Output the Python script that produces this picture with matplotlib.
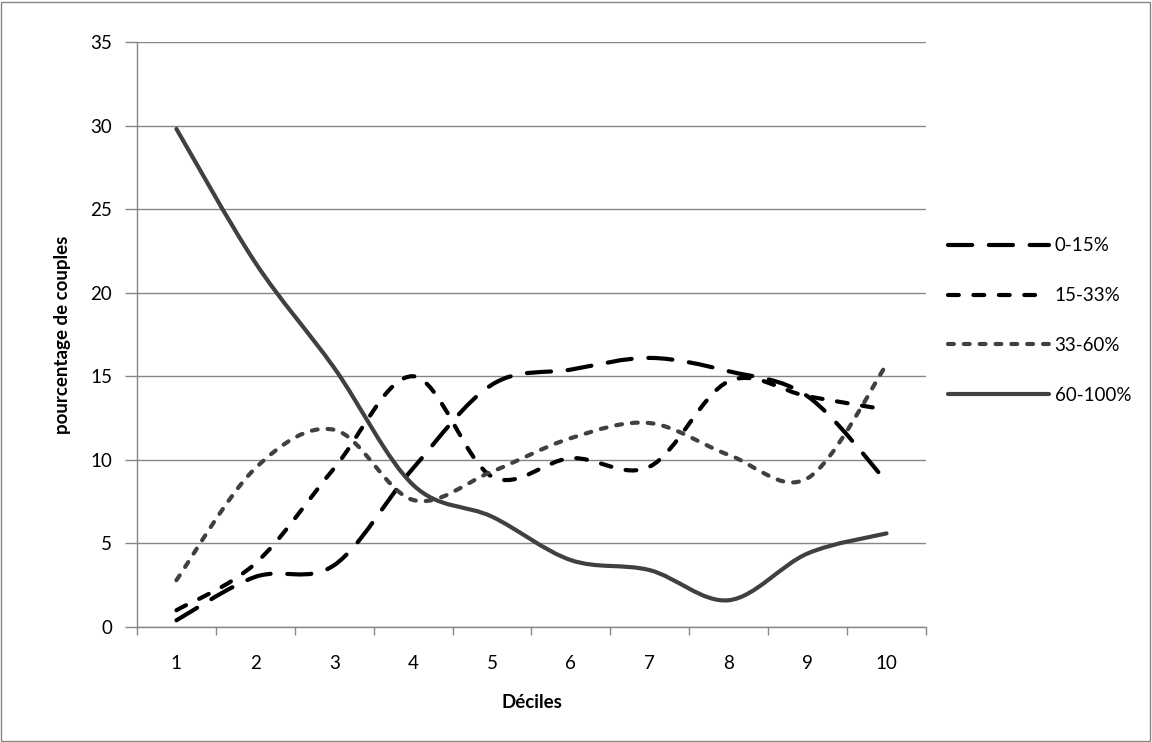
import numpy as np
import matplotlib
matplotlib.use("Agg")
import matplotlib.pyplot as plt
from matplotlib.path import Path
from matplotlib.patches import PathPatch, Rectangle
from matplotlib.lines import Line2D

plt.rcParams['font.family'] = ['Lato', 'DejaVu Sans']

deciles = [1, 2, 3, 4, 5, 6, 7, 8, 9, 10]
s_0_15 = [0.4, 3.0, 3.7, 9.5, 14.5, 15.4, 16.1, 15.3, 13.8, 8.7]
s_15_33 = [1.0, 3.8, 9.5, 15.0, 9.0, 10.1, 9.6, 14.7, 13.8, 13.0]
s_33_60 = [2.8, 9.5, 11.8, 7.6, 9.3, 11.3, 12.2, 10.3, 8.9, 15.7]
s_60_100 = [29.8, 21.8, 15.5, 8.5, 6.6, 4.0, 3.4, 1.6, 4.4, 5.6]
labels = ['0-15%', '15-33%', '33-60%', '60-100%']
y_ticks = [0, 5, 10, 15, 20, 25, 30, 35]

GRID = '#868686'
DARK = '#404040'
FS = 13.5
LW = 3.0


def smooth_path(xs, ys):
    # Excel-like smoothed line: cubic Bezier segments (Catmull-Rom tangents)
    pts = np.column_stack([xs, ys]).astype(float)
    n = len(pts)
    verts = [pts[0]]
    codes = [Path.MOVETO]
    for i in range(n - 1):
        p0 = pts[i - 1] if i > 0 else pts[i]
        p1 = pts[i]
        p2 = pts[i + 1]
        p3 = pts[i + 2] if i + 2 < n else pts[i + 1]
        c1 = p1 + (p2 - p0) / 6.0
        c2 = p2 - (p3 - p1) / 6.0
        verts += [c1, c2, p2]
        codes += [Path.CURVE4] * 3
    return Path(verts, codes)


fig = plt.figure(figsize=(11.52, 7.42), dpi=100)
fig.patches.append(Rectangle((0.001, 0.002), 0.997, 0.995, transform=fig.transFigure,
                             fill=False, edgecolor=GRID, linewidth=1))
ax = fig.add_axes([0.1189, 0.155, 0.6849, 0.7884])

styles = [
    dict(color='black', linestyle=(0, (5.8, 4.0))),
    dict(color='black', linestyle=(0, (2.6, 3.5))),
    dict(color=DARK, linestyle=(0, (1.4, 2.4))),
    dict(color=DARK, linestyle='-'),
]
series = [s_0_15, s_15_33, s_33_60, s_60_100]

handles = []
for ys, st, lab in zip(series, styles, labels):
    patch = PathPatch(smooth_path(deciles, ys), fill=False, edgecolor=st['color'],
                      linewidth=LW, linestyle=st['linestyle'], capstyle='round',
                      joinstyle='round', zorder=3)
    ax.add_patch(patch)
    handles.append(Line2D([], [], color=st['color'], linewidth=LW,
                          linestyle=st['linestyle'], dash_capstyle='round',
                          solid_capstyle='round', label=lab))

ax.set_xlim(0.5, 10.5)
ax.set_ylim(0, 35)
ax.set_xticks(deciles)
ax.set_xticklabels([str(d) for d in deciles], fontsize=FS)
ax.set_xticks(np.arange(0.5, 11, 1), minor=True)
ax.set_yticks(y_ticks)
ax.set_yticklabels([str(v) for v in y_ticks], fontsize=FS)
ax.tick_params(axis='x', which='major', length=0, pad=20)
ax.tick_params(axis='x', which='minor', length=6, color=GRID, width=1)
ax.tick_params(axis='y', length=9, color=GRID, width=1, pad=9)
ax.yaxis.grid(True, color=GRID, linewidth=1)
ax.set_axisbelow(True)
for s in ['top', 'right']:
    ax.spines[s].set_visible(False)
for s in ['left', 'bottom']:
    ax.spines[s].set_color(GRID)
    ax.spines[s].set_linewidth(1)

ax.set_xlabel('Déciles', fontsize=FS, fontweight='bold', labelpad=16)
ax.set_ylabel('pourcentage de couples', fontsize=FS, fontweight='bold', labelpad=14)

fig.legend(handles=handles, loc='center left', bbox_to_anchor=(0.808, 0.568),
           frameon=False, fontsize=FS, handlelength=5.4, labelspacing=1.75,
           handletextpad=0.3)

fig.savefig('out.png', dpi=100)
